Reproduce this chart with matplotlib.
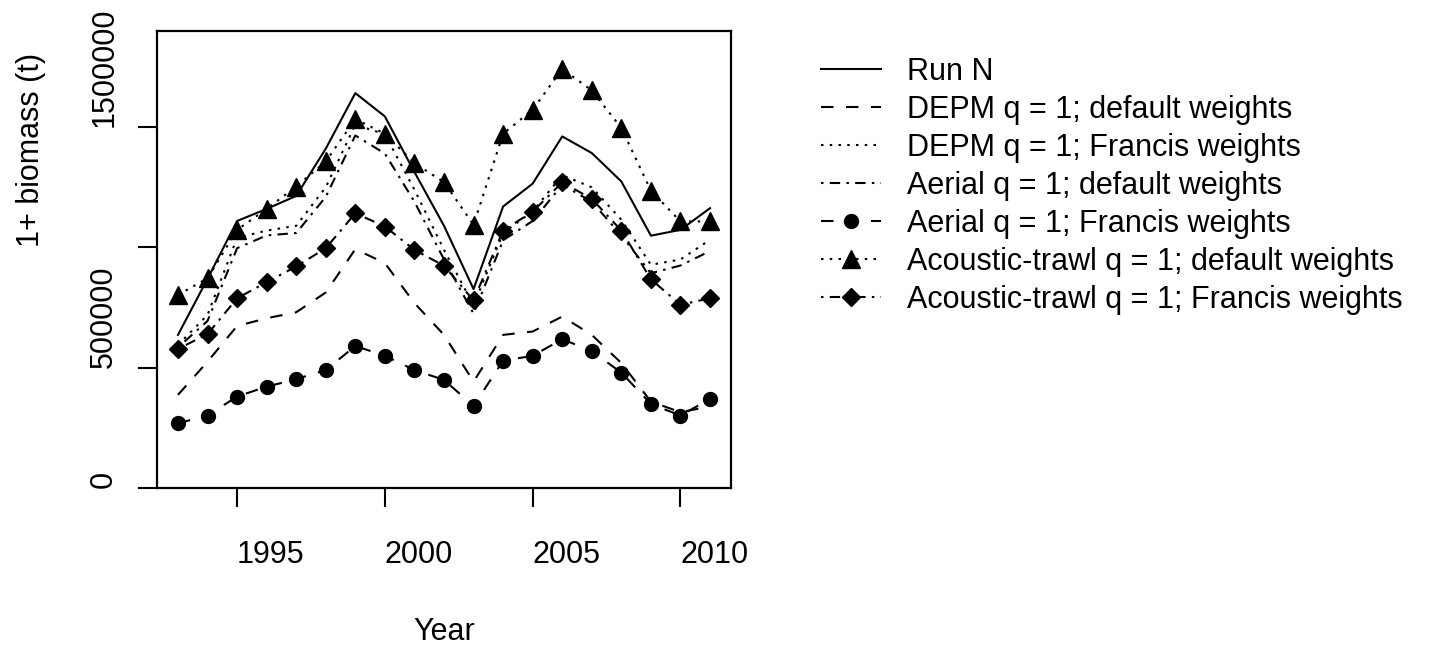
import matplotlib
matplotlib.use("Agg")
import matplotlib.pyplot as plt

plt.rcParams['font.family'] = ['Liberation Sans', 'DejaVu Sans']

years = list(range(1993, 2012))

run_n = [637000, 870000, 1110000, 1160000, 1214000, 1410000, 1641000, 1544000, 1313000, 1090000,
         827000, 1170000, 1265000, 1461000, 1392000, 1274000, 1049000, 1073000, 1163000]
depm_default = [388000, 526000, 674000, 706000, 731000, 813000, 993000, 935000, 769000, 637000,
                443000, 637000, 651000, 713000, 637000, 520000, 360000, 316000, 340000]
depm_francis = [595000, 720000, 1040000, 1070000, 1090000, 1250000, 1510000, 1470000, 1240000, 990000,
                760000, 1060000, 1150000, 1300000, 1250000, 1115000, 928000, 950000, 1032000]
aerial_default = [585000, 695000, 997000, 1050000, 1060000, 1210000, 1465000, 1390000, 1190000, 950000,
                  725000, 1030000, 1110000, 1260000, 1190000, 1050000, 893000, 925000, 985000]
aerial_francis = [270000, 302000, 381000, 422000, 453000, 491000, 591000, 550000, 491000, 450000,
                  342000, 530000, 550000, 619000, 570000, 480000, 350000, 302000, 371000]
acoustic_default = [803000, 872000, 1073000, 1160000, 1253000, 1357000, 1533000, 1472000, 1350000, 1271000,
                    1094000, 1472000, 1572000, 1741000, 1652000, 1496000, 1236000, 1108000, 1108000]
acoustic_francis = [579000, 640000, 789000, 856000, 921000, 997000, 1142000, 1087000, 990000, 924000,
                    780000, 1070000, 1149000, 1270000, 1202000, 1070000, 868000, 762000, 789000]

labels = ["Run N",
          "DEPM q = 1; default weights",
          "DEPM q = 1; Francis weights",
          "Aerial q = 1; default weights",
          "Aerial q = 1; Francis weights",
          "Acoustic-trawl q = 1; default weights",
          "Acoustic-trawl q = 1; Francis weights"]

xticks = [1995, 2000, 2005, 2010]
yticks = [0, 500000, 1000000, 1500000]
ytick_labels = ["0", "500000", "", "1500000"]

W, H = 1433, 647
fig = plt.figure(figsize=(W / 100, H / 100), dpi=100)
L, R, T, B = 156.7, 731.3, 30.7, 488.3
ax = fig.add_axes([L / W, 1 - B / H, (R - L) / W, (B - T) / H])

lw = 1.5
fs = 22
ax.plot(years, run_n, color='black', lw=lw, linestyle='-', label=labels[0])
ax.plot(years, depm_default, color='black', lw=lw, dashes=(6, 6), label=labels[1])
ax.plot(years, depm_francis, color='black', lw=lw, dashes=(1.2, 3), label=labels[2])
ax.plot(years, aerial_default, color='black', lw=lw, dashes=(1.2, 3, 5, 3), label=labels[3])
ax.plot(years, aerial_francis, color='black', lw=lw, dashes=(6, 6), marker='o', ms=10,
        label=labels[4])
ax.plot(years, acoustic_default, color='black', lw=lw, dashes=(1.2, 3), marker='^', ms=13,
        label=labels[5])
ax.plot(years, acoustic_francis, color='black', lw=lw, dashes=(1.2, 3, 5, 3), marker='D', ms=9,
        label=labels[6])

ax.set_xlim(1992.28, 2011.72)
ax.set_ylim(0, 1.9e6)
ax.set_xticks(xticks)
ax.set_xticklabels([str(x) for x in xticks], ha='left', fontsize=fs)
ax.set_yticks(yticks)
ax.set_yticklabels(ytick_labels, rotation=90, va='bottom', fontsize=fs)
ax.tick_params(axis='both', direction='out', length=14, width=1.5, color='black')
ax.tick_params(axis='x', pad=23.5)
ax.tick_params(axis='y', pad=13)
for sp in ax.spines.values():
    sp.set_linewidth(1.6)

ax.set_xlabel("Year", fontsize=fs, va='center')
ax.xaxis.set_label_coords(0.5, (B - 632) / (B - T))
ax.set_ylabel("1+ biomass (t)", fontsize=fs, va='center', ha='center')
ax.yaxis.set_label_coords((31 - L) / (R - L), (B - 150) / (B - T))

ax.legend(loc='upper left', bbox_to_anchor=(821 / W, 1 - 57 / H), bbox_transform=fig.transFigure,
          frameon=False, fontsize=fs, handlelength=1.96, handletextpad=0.86, labelspacing=0.26,
          borderpad=0, borderaxespad=0)

fig.savefig("out.png", dpi=100)
